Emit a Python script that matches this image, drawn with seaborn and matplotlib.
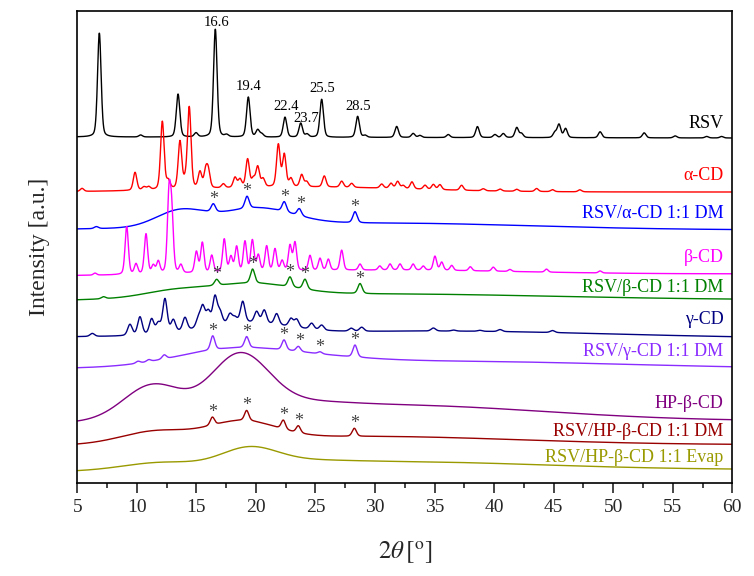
import numpy as np
import pandas as pd
import matplotlib
matplotlib.use("Agg")
import matplotlib.pyplot as plt
import seaborn as sns

sns.set_theme(style="white")
plt.rcParams['font.family'] = ['Liberation Serif', 'DejaVu Serif']
plt.rcParams['mathtext.fontset'] = 'stix'

# ---------------- data (y in pixel-height units) -------------
samples = ["RSV", "α-CD", "RSV/α-CD 1:1 DM", "β-CD", "RSV/β-CD 1:1 DM", "γ-CD",
           "RSV/γ-CD 1:1 DM", "HP-β-CD", "RSV/HP-β-CD 1:1 DM", "RSV/HP-β-CD 1:1 Evap"]
colors = ["#000000", "#FF0000", "#0000FF", "#FF00FF", "#008000", "#000080",
          "#8A2BFF", "#800080", "#990000", "#999900"]

# baseline level (left, right) for each pattern
base_left = [137, 192, 230, 276, 303, 337.6, 369.4, 425.9, 447.3, 473.1]
base_right = [138, 192, 230, 274, 300.4, 338.4, 369.1, 421.6, 445, 470]
peak_sigma = [0.15, 0.15, 0.18, 0.14, 0.18, 0.19, 0.18, 0.15, 0.18, 0.15]

# sharp reflections: positions (2θ) and heights
rsv_pos = [6.85, 10.32, 13.46, 14.97, 16.59, 17.54, 19.36, 20.15, 20.5, 22.44, 23.76, 24.29,
           25.52, 28.54, 29.16, 31.82, 33.2, 33.77, 36.15, 38.6, 40.07, 40.77, 41.9, 42.3,
           45.1, 45.45, 46.0, 48.9, 52.6, 55.2, 57.85, 59.1]
rsv_h = [104, 2, 43, 4, 108, 2, 40, 7, 3, 20, 14, 3, 38, 21, 2, 11, 4, 2, 3, 11, 3, 4, 10, 4,
         5, 13, 9, 6, 5, 2, 1.5, 1.5]
acd_pos = [5.4, 9.85, 10.6, 11.0, 12.14, 12.64, 13.62, 14.04, 14.4, 15.3, 15.78, 16.0, 17.26,
           18.24, 18.66, 19.3, 19.78, 20.15, 20.6, 21.88, 22.38, 22.94, 23.84, 24.26, 25.74,
           27.2, 28.04, 30.56, 31.34, 31.9, 32.37, 33.1, 34.2, 34.9, 35.45, 37.27, 39.09,
           40.5, 41.9, 43.57, 44.9, 47.2]
acd_h = [3, 18, 3, 3, 68, 8, 47, 6, 81, 16, 16, 16, 4, 10, 8, 28, 8, 20, 8, 42, 32, 8, 12, 5,
         11, 6, 4, 4, 5, 7, 3, 7, 4, 5, 5, 5, 2, 2, 2, 3, 2, 2]
adm_pos = [6.6, 16.42, 19.25, 22.38, 23.64, 28.32]
adm_h = [2, 8, 12, 10, 7, 11]
bcd_pos = [6.49, 9.15, 9.93, 10.77, 11.38, 11.8, 12.7, 12.93, 13.7, 15.0, 15.5, 16.29, 17.34,
           17.9, 18.38, 19.08, 19.7, 20.2, 20.9, 21.6, 22.2, 22.86, 23.28, 24.54, 25.38,
           26.08, 27.2, 28.74, 30.4, 31.26, 32.1, 33.2, 34.05, 35.03, 35.6, 36.44, 38.0,
           39.93, 41.33, 44.4, 48.9]
bcd_h = [2, 48, 10, 40, 8, 12, 75, 55, 8, 21, 30, 17, 33, 15, 25, 30, 31, 16, 25, 22, 10, 25,
         28, 15, 12, 11, 20, 6, 4, 6, 6, 6, 4, 14, 8, 5, 4, 4, 2, 3, 2]
bdm_pos = [7.2, 16.7, 19.72, 22.86, 24.12, 28.74]
bdm_h = [2, 6, 14, 10, 10, 10]
gcd_pos = [6.26, 9.42, 10.26, 11.24, 11.8, 12.36, 13.06, 14.04, 15.16, 15.53, 16.0, 16.56,
           16.98, 17.82, 18.24, 18.89, 20.06, 20.7, 21.74, 22.94, 23.42, 24.68, 25.52, 28.0,
           28.88, 34.9, 36.6, 38.8, 40.5, 44.9]
gcd_h = [3, 11, 18, 15, 10, 34, 12, 13, 9, 20, 14, 28, 12, 9, 5, 21, 11, 13, 11, 8, 8, 6, 5,
         3, 4, 3, 1, 1, 2, 2]
gdm_pos = [10.1, 11.0, 12.3, 16.37, 19.22, 22.36, 23.56, 25.38, 28.32]
gdm_h = [2, 2, 4, 14, 11, 10, 5, 2, 12]
hp_pos = []
hp_h = []
hdm_pos = [16.34, 19.22, 22.3, 23.56, 28.26]
hdm_h = [8, 10, 9, 7, 8]
hev_pos = []
hev_h = []

# broad amorphous humps: centre, width (sigma), height
rsv_bg = ([], [], [])
acd_bg = ([24.0], [9.0], [5])
adm_bg = ([13.6, 20.0, 30.0], [2.0, 3.0, 13.0], [16, 17, 7])
bcd_bg = ([30.0], [12.0], [5])
bdm_bg = ([13.0, 19.5, 28.0], [2.5, 3.5, 17.0], [6, 12, 8])
gcd_bg = ([19.0, 35.0], [3.5, 15.0], [11, 7])
gdm_bg = ([17.5, 24.0, 35.0], [4.5, 5.0, 16.0], [14, 6, 8])
hp_bg = ([11.3, 18.6, 23.0, 30.0], [2.4, 2.4, 4.0, 14.0], [33, 55, 6, 19])
hdm_bg = ([11.5, 18.8, 28.0], [2.8, 2.8, 14.0], [11, 18, 10])
hev_bg = ([11.8, 19.4, 23.0, 30.0], [3.0, 2.3, 4.0, 14.0], [6, 16, 3, 10])

peaks = [(rsv_pos, rsv_h), (acd_pos, acd_h), (adm_pos, adm_h), (bcd_pos, bcd_h),
         (bdm_pos, bdm_h), (gcd_pos, gcd_h), (gdm_pos, gdm_h), (hp_pos, hp_h),
         (hdm_pos, hdm_h), (hev_pos, hev_h)]
humps = [rsv_bg, acd_bg, adm_bg, bcd_bg, bdm_bg, gcd_bg, gdm_bg, hp_bg, hdm_bg, hev_bg]

# peak labels on RSV
label_vals = ["16.6", "19.4", "22.4", "23.7", "25.5", "28.5"]
label_x = [16.65, 19.42, 22.5, 24.2, 25.6, 28.6]
label_y = [553, 490, 470, 458, 488, 470]

# asterisks (2θ) for the binary systems
star_trace = [2, 4, 6, 8]
star_pos = [[16.42, 19.25, 22.38, 23.72, 28.32],
            [16.7, 19.72, 22.86, 24.12, 28.74],
            [16.37, 19.22, 22.36, 23.7, 25.38, 28.32],
            [16.34, 19.22, 22.3, 23.6, 28.26]]

# sample label vertical positions (pixel rows in the picture)
name_row = [123, 176, 213, 258, 287, 320, 352, 403, 432, 458]

# ---------------- build patterns ----------------
H = 576
x = np.round(np.arange(5.0, 60.0001, 0.02), 3)


def gauss(xx, c, s, h):
    return h * np.exp(-0.5 * ((xx - c) / s) ** 2)


def pvoigt(xx, c, s, h, eta=0.3):
    g = np.exp(-0.5 * ((xx - c) / s) ** 2)
    gam = s * 1.1774
    l = 1.0 / (1.0 + ((xx - c) / gam) ** 2)
    return h * ((1 - eta) * g + eta * l)


frames = []
curves = []
for i, name in enumerate(samples):
    base = base_left[i] + (base_right[i] - base_left[i]) * (x - 5) / 55.0
    sig = np.zeros_like(x)
    for c, s, h in zip(*humps[i]):
        sig += gauss(x, c, s, h)
    for c, h in zip(*peaks[i]):
        sig += pvoigt(x, c, peak_sigma[i], h)
    y = H - (base - sig)
    curves.append(y)
    frames.append(pd.DataFrame({"two_theta": x, "I": y, "sample": name}))
df = pd.concat(frames, ignore_index=True)

# ---------------- plot ----------------
fig = plt.figure(figsize=(7.54, 5.76), dpi=100)
ax = fig.add_axes([77.3 / 754, (H - 482.7) / H, 655 / 754, 472 / H])
sns.lineplot(data=df, x="two_theta", y="I", hue="sample", hue_order=samples,
             palette=colors, estimator=None, sort=False, legend=False, lw=1.0, ax=ax)

ax.set_xlim(5, 60)
ax.set_ylim(H - 482.7, H - 10.7)
ax.set_yticks([])
ax.set_xticks(np.arange(5, 61, 5))
ax.set_xticks(np.arange(7.5, 60, 5), minor=True)
ax.tick_params(axis="x", which="major", direction="out", length=7, width=1.2,
               labelsize=14, pad=5, bottom=True, top=False)
ax.tick_params(axis="x", which="minor", direction="out", length=3.5, width=1.2,
               bottom=True, top=False)
for sp in ax.spines.values():
    sp.set_visible(True)
    sp.set_color("black")
    sp.set_linewidth(1.2)

for i, name in enumerate(samples):
    ax.text(59.26, H - name_row[i], name, ha="right", va="center", fontsize=13,
            color=colors[i])

for v, lx, ly in zip(label_vals, label_x, label_y):
    ax.text(lx, ly, v, ha="center", va="center", fontsize=10.5, color="black")

for ti, plist in zip(star_trace, star_pos):
    yc = curves[ti]
    for p in plist:
        m = (x > p - 0.3) & (x < p + 0.3)
        top = yc[m].max()
        ax.text(p, top, "*", ha="center", va="baseline", fontsize=13, color="#444444")

ax.set_xlabel(r"$2\mathit{\theta}\,[^{\mathrm{o}}]$", fontsize=18)
ax.xaxis.set_label_coords(0.5, (482.7 - 552) / 472)
ax.xaxis.label.set_va("center")
ax.set_ylabel("Intensity [a.u.]", fontsize=17)
ax.yaxis.set_label_coords((40 - 77.3) / 655, 0.5)
ax.yaxis.label.set_va("center")

fig.savefig("out.png", dpi=100)
